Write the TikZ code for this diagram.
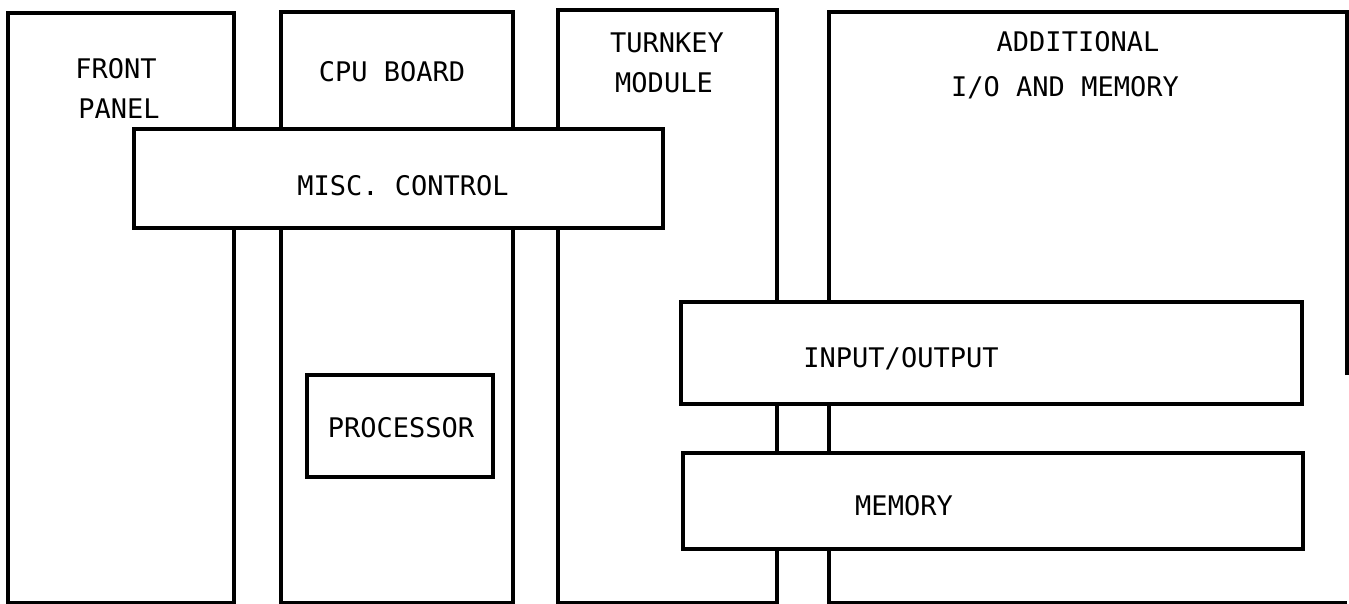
\documentclass[tikz,border=0pt]{standalone}
\usepackage{fontspec}
\setmonofont{DejaVu Sans Mono}
\begin{document}
\begin{tikzpicture}[x=1pt,y=-1pt,
  panel/.style={draw=black,line width=3.2pt,line join=miter},
  box/.style={draw=black,line width=4.4pt,fill=white,line join=miter},
  lbl/.style={font=\ttfamily\fontsize{27}{31}\selectfont,anchor=base,inner sep=0pt,text=black}]
\useasboundingbox[fill=white] (0,0) rectangle (1349,603);
% panels (boards)
\draw[panel] (8,13) rectangle (234,603);
\draw[panel] (281,12) rectangle (513,603);
\draw[panel] (558,10) rectangle (777,603);
\draw[panel] (1347,375) -- (1347,12) -- (829,12) -- (829,603) -- (1347,603);
% boxes across the boards
\draw[box] (134,129) rectangle (663,228);
\draw[box] (681,302) rectangle (1302,404);
\draw[box] (683,453) rectangle (1303,549);
\draw[box] (307,375) rectangle (493,477);
% labels
\node[lbl] (fp1) at (116,78) {FRONT};
\node[lbl] (fp2) at (119,118) {PANEL};
\node[lbl] (cpu) at (392,81) {CPU BOARD};
\node[lbl] (tk1) at (667,52) {TURNKEY};
\node[lbl] (tk2) at (664,92) {MODULE};
\node[lbl] (ad1) at (1078,51) {ADDITIONAL};
\node[lbl] (ad2) at (1065,96) {I/O AND MEMORY};
\node[lbl] (misc) at (403,195) {MISC. CONTROL};
\node[lbl] (proc) at (401,437) {PROCESSOR};
\node[lbl] (io) at (901,367) {INPUT/OUTPUT};
\node[lbl] (mem) at (904,515) {MEMORY};
\end{tikzpicture}
\end{document}
